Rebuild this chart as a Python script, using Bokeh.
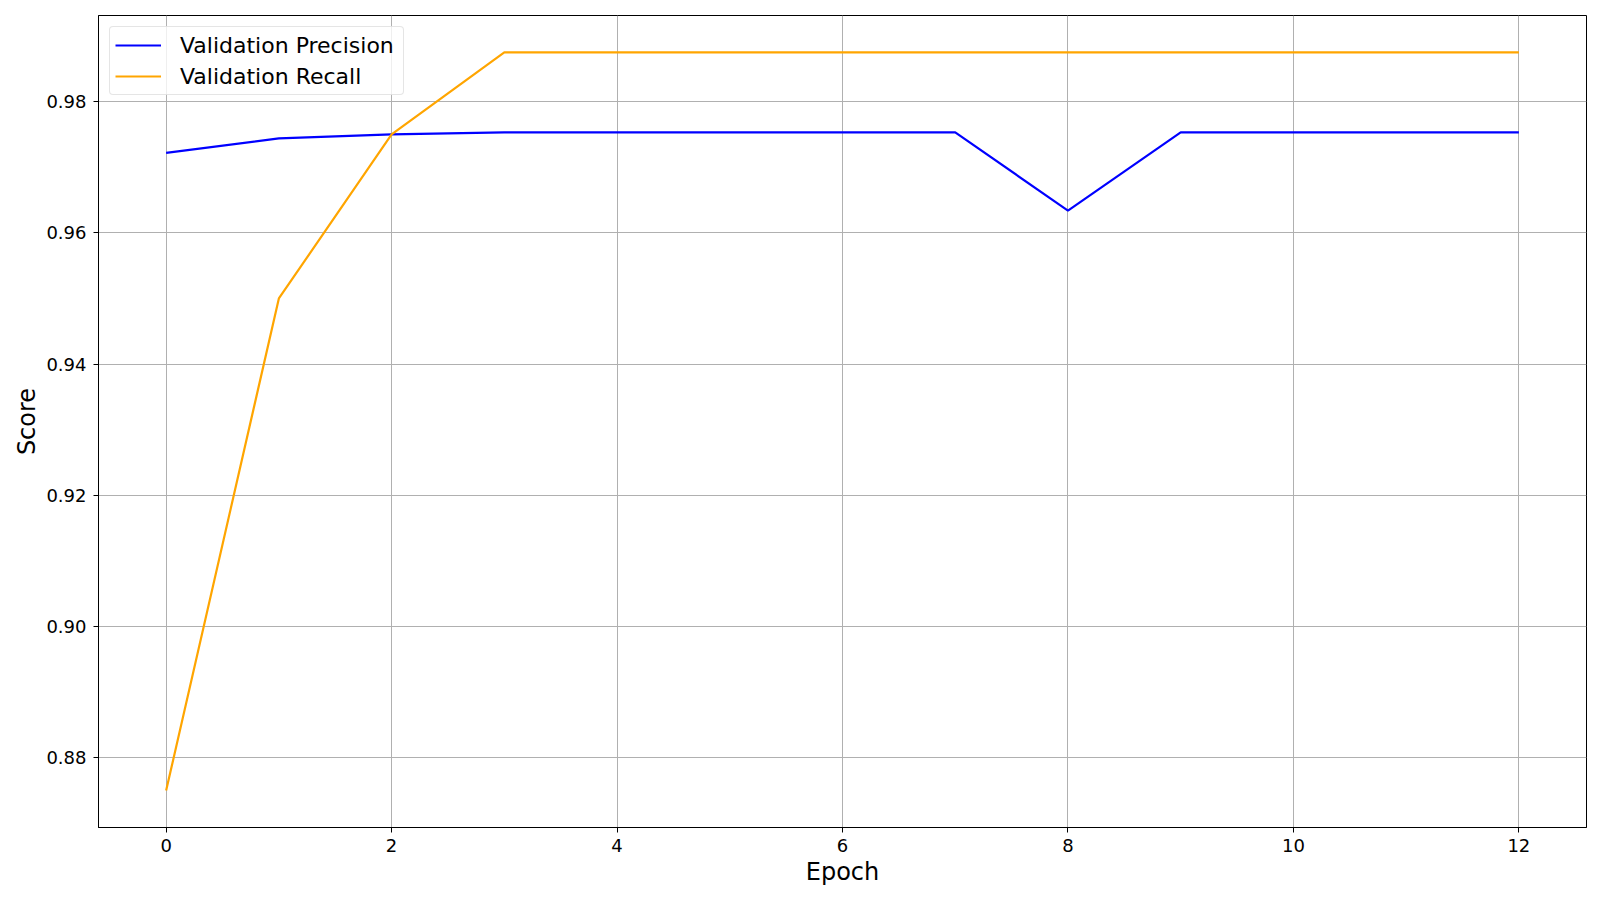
from bokeh.plotting import figure
from bokeh.models import Range1d, FixedTicker, PrintfTickFormatter, Legend, LegendItem
from bokeh.embed import file_html
from bokeh.resources import INLINE

epochs = list(range(13))
precision = [0.9722, 0.9744, 0.9750, 0.9753, 0.9753, 0.9753, 0.9753, 0.9753,
             0.9634, 0.9753, 0.9753, 0.9753, 0.9753]
recall = [0.875, 0.950, 0.975, 0.9875, 0.9875, 0.9875, 0.9875, 0.9875,
          0.9875, 0.9875, 0.9875, 0.9875, 0.9875]
x_ticks = [0, 2, 4, 6, 8, 10, 12]
y_ticks = [0.88, 0.90, 0.92, 0.94, 0.96, 0.98]

FONT = "DejaVu Sans"

p = figure(output_backend="svg", toolbar_location=None,
           frame_width=1488, frame_height=812,
           x_range=Range1d(-0.6, 12.6), y_range=Range1d(0.869375, 0.993125),
           min_border_left=98, min_border_top=15, min_border_right=6, min_border_bottom=55)
p.background_fill_color = "white"
p.border_fill_color = "white"
p.outline_line_color = "black"
p.outline_line_width = 1

l1 = p.line(epochs, precision, line_color="#0000ff", line_width=2.2)
l2 = p.line(epochs, recall, line_color="#ffa500", line_width=2.2)

for ax in (p.xaxis[0], p.yaxis[0]):
    ax.axis_line_color = "black"
    ax.major_tick_line_color = "black"
    ax.major_tick_out = 5
    ax.major_tick_in = 0
    ax.minor_tick_line_color = None
    ax.major_label_text_font = FONT
    ax.major_label_text_font_size = "18px"
    ax.major_label_text_color = "black"
    ax.axis_label_text_font = FONT
    ax.axis_label_text_font_size = "24px"
    ax.axis_label_text_font_style = "normal"
    ax.axis_label_text_color = "black"

p.xaxis.ticker = FixedTicker(ticks=x_ticks)
p.yaxis.ticker = FixedTicker(ticks=y_ticks)
p.xaxis.formatter = PrintfTickFormatter(format="%d")
p.yaxis.formatter = PrintfTickFormatter(format="%.2f")
p.xaxis.axis_label = "Epoch"
p.yaxis.axis_label = "Score"
p.xaxis.major_label_standoff = 6
p.yaxis.major_label_standoff = 7
p.xaxis.axis_label_standoff = 3
p.yaxis.axis_label_standoff = 2

p.xgrid.ticker = FixedTicker(ticks=x_ticks)
p.ygrid.ticker = FixedTicker(ticks=y_ticks)
p.grid.grid_line_color = "#b0b0b0"
p.grid.grid_line_width = 1

legend = Legend(items=[LegendItem(label="Validation Precision", renderers=[l1]),
                       LegendItem(label="Validation Recall", renderers=[l2])],
                location="top_left")
legend.margin = 11
legend.padding = 5
legend.spacing = 5
legend.glyph_width = 46
legend.glyph_height = 26
legend.label_height = 26
legend.label_width = 218
legend.label_standoff = 19
legend.label_text_font = FONT
legend.label_text_font_size = "22px"
legend.label_text_color = "black"
legend.border_line_color = "#cccccc"
legend.border_line_width = 1
legend.background_fill_alpha = 0.8
legend.border_radius = 4
p.add_layout(legend)

open("out.html", "w").write(file_html(p, INLINE))
